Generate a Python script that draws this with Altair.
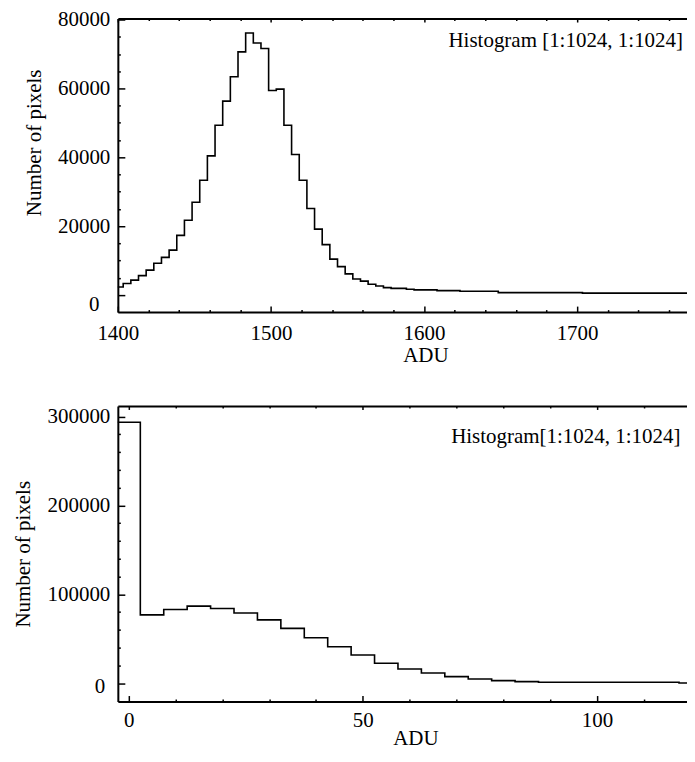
import altair as alt
import pandas as pd

# ---- top histogram (left bin edges where the step changes, counts) ----
top_adu = [1398.5, 1403.5, 1408.5, 1413.5, 1418.5, 1423.5, 1428.5, 1433.5, 1438.5, 1443.5,
           1448.5, 1453.5, 1458.5, 1463.5, 1468.5, 1473.5, 1478.5, 1483.5, 1488.5, 1493.5,
           1498.5, 1503.5, 1508.5, 1513.5, 1518.5, 1523.5, 1528.5, 1533.5, 1538.5, 1543.5,
           1548.5, 1553.5, 1558.5, 1563.5, 1568.5, 1573.5, 1578.5, 1588.5, 1593.5, 1608.5,
           1623.5, 1648.5, 1703.5, 1780.0]
top_count = [2300, 3300, 4300, 5600, 7200, 9200, 10900, 13000, 17300, 21700,
             26900, 33300, 40400, 49300, 56300, 63400, 70600, 76100, 73200, 71600,
             59400, 59800, 49300, 40800, 33300, 25100, 19100, 14600, 10400, 8200,
             6100, 4600, 4000, 3100, 2600, 2100, 1900, 1650, 1450, 1250,
             1070, 670, 500, 500]

# ---- bottom histogram ----
bot_adu = [-2.5, 2.5, 7.5, 12.5, 17.5, 22.5, 27.5, 32.5, 37.5, 42.5, 47.5,
           52.5, 57.5, 62.5, 67.5, 72.5, 77.5, 82.5, 87.5, 117.5, 125.0]
bot_count = [293700, 76900, 82900, 86700, 84100, 79000, 71300, 61700, 51100, 41000, 31700,
             22400, 16000, 11500, 7400, 4800, 2900, 1800, 1100, 300, 300]

top_note = "Histogram [1:1024, 1:1024]"
bot_note = "Histogram[1:1024, 1:1024]"

top_x_major = [1400, 1500, 1600, 1700]
top_x_ticks = list(range(1400, 1772, 20))
top_y_major = [0, 20000, 40000, 60000, 80000]
top_y_ticks = list(range(0, 80001, 5000))

bot_x_major = [0, 50, 100]
bot_x_ticks = list(range(0, 120, 10))
bot_y_major = [0, 100000, 200000, 300000]
bot_y_ticks = list(range(0, 300001, 20000))

FONT = "Liberation Serif"
FS = 21
W = 570


def panel(adu, count, note, note_x, note_y, xdom, ydom, H,
          xmaj, xticks, xmod, ymaj, yticks, ymod, title_x, title_pad, label_pad,
          title_y=None, zero_offset=0, zero_pad=8):
    df = pd.DataFrame({"adu": adu, "count": count})
    base = alt.Chart(df)
    xs = alt.Scale(domain=xdom, nice=False, zero=False)
    ys = alt.Scale(domain=ydom, nice=False, zero=False)

    yaxis_kw = dict(values=ymaj, title="Number of pixels", ticks=False, tickSize=0,
                    format="d", domainWidth=2, labelOverlap=False, titlePadding=13,
                    labelPadding={"condition": {"test": "datum.value === 0", "value": zero_pad},
                                  "value": 8},
                    labelOffset={"condition": {"test": "datum.value === 0", "value": zero_offset},
                                 "value": 0})
    if title_y is not None:
        yaxis_kw["titleY"] = title_y

    line = base.mark_line(interpolate="step-after", color="black", strokeWidth=1.6,
                          clip=True).encode(
        x=alt.X("adu:Q", scale=xs,
                axis=alt.Axis(values=xmaj, title="ADU", ticks=False, tickSize=0,
                              labelPadding=label_pad, format="d", domainWidth=2,
                              labelFlush=False, labelOverlap=False,
                              titleX=title_x, titlePadding=title_pad)),
        y=alt.Y("count:Q", scale=ys, axis=alt.Axis(**yaxis_kw)),
    )

    # inward-pointing ticks on bottom and left edges
    ticks_in = base.mark_line(opacity=0, clip=True).encode(
        x=alt.X("adu:Q", scale=xs,
                axis=alt.Axis(orient="top", offset=-H, values=xticks, labels=False,
                              domain=False, title=None, tickWidth=1.5,
                              tickSize={"condition": {"test": f"datum.value % {xmod} === 0",
                                                      "value": 6}, "value": 2.5})),
        y=alt.Y("count:Q", scale=ys,
                axis=alt.Axis(orient="right", offset=-W, values=yticks, labels=False,
                              domain=False, title=None, tickWidth=1.5,
                              tickSize={"condition": {"test": f"datum.value % {ymod} === 0",
                                                      "value": 7}, "value": 2.5})),
    )

    # top frame with downward ticks
    border = base.mark_line(opacity=0, clip=True).encode(
        x=alt.X("adu:Q", scale=xs,
                axis=alt.Axis(orient="bottom", offset=-H, values=xticks, labels=False,
                              domain=True, domainWidth=2, title=None, tickWidth=1.5,
                              tickSize={"condition": {"test": f"datum.value % {xmod} === 0",
                                                      "value": 3.5}, "value": 2})),
        y=alt.Y("count:Q", scale=ys, axis=None),
    )

    ndf = pd.DataFrame({"x": [note_x], "y": [note_y], "t": [note]})
    text = alt.Chart(ndf).mark_text(align="right", baseline="alphabetic", font=FONT,
                                    fontSize=FS, color="black").encode(
        x=alt.X("x:Q", scale=xs, axis=None),
        y=alt.Y("y:Q", scale=ys, axis=None),
        text="t:N",
    )

    return alt.layer(line, ticks_in, border, text).resolve_axis(
        x="independent", y="independent").properties(width=W, height=H)


top = panel(top_adu, top_count, top_note, 1769.2, 71950,
            [1400, 1771.8], [-5000, 80300], 294,
            top_x_major, top_x_ticks, 100, top_y_major, top_y_ticks, 20000,
            title_x=308, title_pad=1, label_pad=10, title_y=124, zero_offset=10, zero_pad=19)

bottom = panel(bot_adu, bot_count, bot_note, 117.8, 270200,
               [-2.3, 119.2], [-20600, 312000], 296,
               bot_x_major, bot_x_ticks, 50, bot_y_major, bot_y_ticks, 100000,
               title_x=298, title_pad=-3, label_pad=8, zero_offset=3, zero_pad=13)

chart = alt.vconcat(top, bottom, spacing=40).properties(
    padding={"left": 5, "top": 0, "right": 0, "bottom": 0}
).configure_view(stroke=None).configure_axis(
    labelFont=FONT, labelFontSize=FS, labelColor="black",
    titleFont=FONT, titleFontSize=FS, titleFontWeight="normal", titleColor="black",
    domainColor="black", tickColor="black", grid=False,
)

chart.save("out.html", embed_options={"renderer": "svg", "actions": False})
